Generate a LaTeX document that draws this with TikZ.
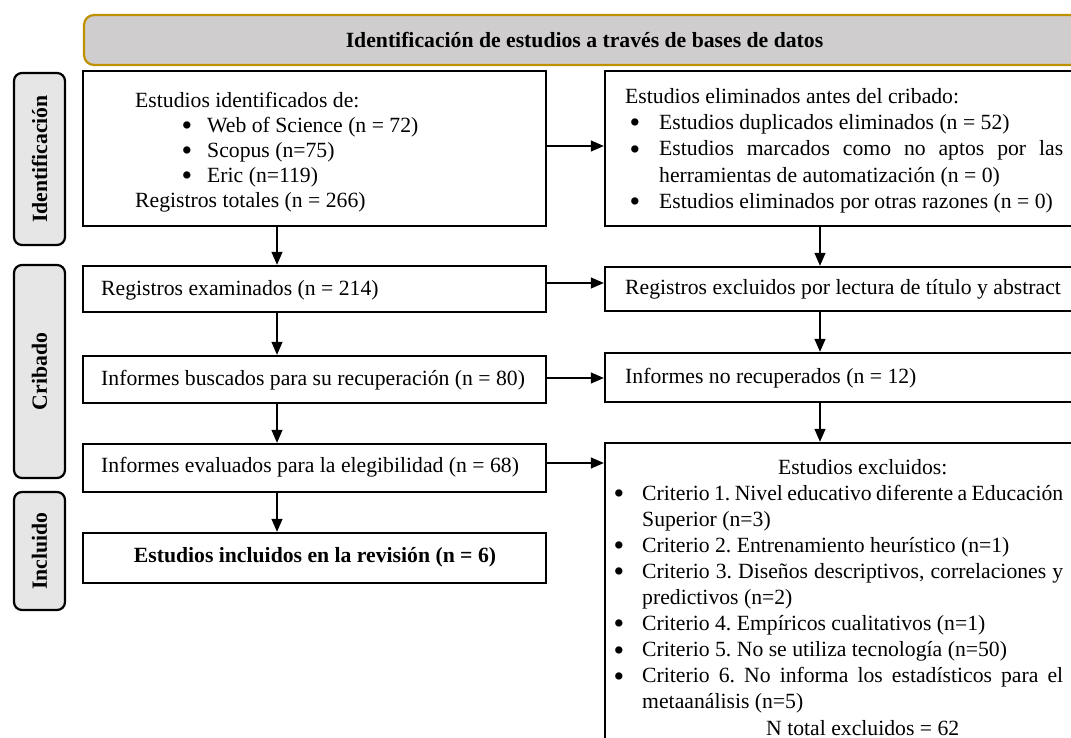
\documentclass[tikz,border=0pt]{standalone}
\usepackage{fontspec}
\usepackage{graphicx}
\setmainfont{Liberation Serif}
\usetikzlibrary{arrows.meta}
\definecolor{gold}{HTML}{BF9000}
\definecolor{bannergray}{HTML}{CFCDCD}
\definecolor{labelgray}{HTML}{E7E6E6}
\newcommand\bul[1]{\llap{\smash{\raisebox{-3.3pt}{\scalebox{1.4}{\textbullet}}}\hspace{#1}}}
\frenchspacing
\begin{document}
\begin{tikzpicture}[x=1pt,y=-1pt,
  every node/.style={font=\fontsize{21.7}{25.5}\selectfont},
  boldtxt/.style={font=\fontsize{21.7}{25.5}\selectfont\bfseries},
  box/.style={draw=black,line width=2.4pt,inner sep=0pt},
  lbl/.style={draw=black,line width=2.2pt,fill=labelgray,rounded corners=8pt,inner sep=0pt,rotate=90,boldtxt},
  arr/.style={line width=1.3pt,-{Triangle[length=13pt,width=11pt]}},
  txt/.style={inner sep=0pt}]
\useasboundingbox (0,0) rectangle (1071,738);
\clip (0,0) rectangle (1071,738);

% banner
\node[draw=gold,line width=2.2pt,fill=bannergray,rounded corners=10pt,minimum width=1001pt,minimum height=50pt,inner sep=0pt,boldtxt] (ban) at (584.5,40) {Identificación de estudios a través de bases de datos};

% side labels
\node[lbl,minimum width=172pt,minimum height=51pt] (lid) at (39.5,159) {Identificación};
\node[lbl,minimum width=213pt,minimum height=51pt] (lcr) at (39.5,371.5) {Cribado};
\node[lbl,minimum width=118pt,minimum height=51pt] (lin) at (39.5,551) {Incluido};

% boxes left
\node[box,minimum width=463pt,minimum height=155pt] (idl) at (314.5,148.5) {};
\node[box,minimum width=463pt,minimum height=46pt] (scr) at (314.5,289) {};
\node[box,minimum width=463pt,minimum height=47pt] (ret) at (314.5,379.5) {};
\node[box,minimum width=463pt,minimum height=48pt] (eli) at (314.5,468) {};
\node[box,minimum width=463pt,minimum height=50pt] (inc) at (314.5,558) {};
% boxes right
\node[box,minimum width=480pt,minimum height=155pt] (idr) at (845,148.5) {};
\node[box,minimum width=480pt,minimum height=44pt] (scrr) at (845,289) {};
\node[box,minimum width=480pt,minimum height=49pt] (retr) at (845,377.5) {};
\node[box,minimum width=480pt,minimum height=317pt] (elir) at (845,601.5) {};

% texts
\node[txt,anchor=base west] (idltxt) at (135,107.5) {\parbox[t]{400pt}{\baselineskip=24.9pt
Estudios identificados de:\\
\hspace*{72pt}\bul{15pt}Web of Science (n = 72)\\
\hspace*{72pt}\bul{15pt}Scopus (n=75)\\
\hspace*{72pt}\bul{15pt}Eric (n=119)\\
Registros totales (n = 266)}};

\node[txt,anchor=base west] (idrtxt) at (625,103.5) {\parbox[t]{438pt}{\baselineskip=26.2pt
Estudios eliminados antes del cribado:\\
\hspace*{34pt}\bul{19pt}Estudios duplicados eliminados (n = 52)\\
\hspace*{34pt}\bul{19pt}\makebox[404pt][s]{Estudios marcados como no aptos por las}\\
\hspace*{34pt}herramientas de automatización (n = 0)\\
\hspace*{34pt}\bul{19pt}Estudios eliminados por otras razones (n = 0)}};

\node[txt,anchor=west] (scrtxt) at (101,290) {Registros examinados (n = 214)};
\node[txt,anchor=west] (rettxt) at (101,380) {Informes buscados para su recuperación (n = 80)};
\node[txt,anchor=west] (elitxt) at (101,467) {Informes evaluados para la elegibilidad (n = 68)};
\node[txt,boldtxt] (inctxt) at (315,557) {Estudios incluidos en la revisión (n = 6)};
\node[txt,anchor=west] (scrrtxt) at (625,289) {Registros excluidos por lectura de título y abstract};
\node[txt,anchor=west] (retrtxt) at (625,378) {Informes no recuperados (n = 12)};

\node[txt,anchor=base west] (elirtxt) at (642,474) {\parbox[t]{421pt}{\baselineskip=26.1pt
\makebox[\linewidth]{\hspace*{20pt}Estudios excluidos:}\\
\bul{18pt}\makebox[\linewidth][s]{Criterio 1. Nivel educativo diferente a Educación}\\
Superior (n=3)\\
\bul{18pt}Criterio 2. Entrenamiento heurístico (n=1)\\
\bul{18pt}\makebox[\linewidth][s]{Criterio 3. Diseños descriptivos, correlaciones y}\\
predictivos (n=2)\\
\bul{18pt}Criterio 4. Empíricos cualitativos (n=1)\\
\bul{18pt}Criterio 5. No se utiliza tecnología (n=50)\\
\bul{18pt}\makebox[\linewidth][s]{Criterio 6. No informa los estadísticos para el}\\
metaanálisis (n=5)\\
\makebox[\linewidth]{\hspace*{20pt}N total excluidos = 62}}};

% connector guides
\coordinate (lx) at (277,0);
\coordinate (rx) at (820,0);
\coordinate (y1) at (0,146);
\coordinate (y2) at (0,283);
\coordinate (y3) at (0,378);
\coordinate (y4) at (0,463);

% horizontal arrows
\draw[arr] (idl.east |- y1) -- (idr.west |- y1);
\draw[arr] (scr.east |- y2) -- (scrr.west |- y2);
\draw[arr] (ret.east |- y3) -- (retr.west |- y3);
\draw[arr] (eli.east |- y4) -- (elir.west |- y4);
% vertical arrows
\draw[arr] (idl.south -| lx) -- (scr.north -| lx);
\draw[arr] (scr.south -| lx) -- (ret.north -| lx);
\draw[arr] (ret.south -| lx) -- (eli.north -| lx);
\draw[arr] (eli.south -| lx) -- (inc.north -| lx);
\draw[arr] (idr.south -| rx) -- (scrr.north -| rx);
\draw[arr] (scrr.south -| rx) -- (retr.north -| rx);
\draw[arr] (retr.south -| rx) -- (elir.north -| rx);
\end{tikzpicture}
\end{document}
